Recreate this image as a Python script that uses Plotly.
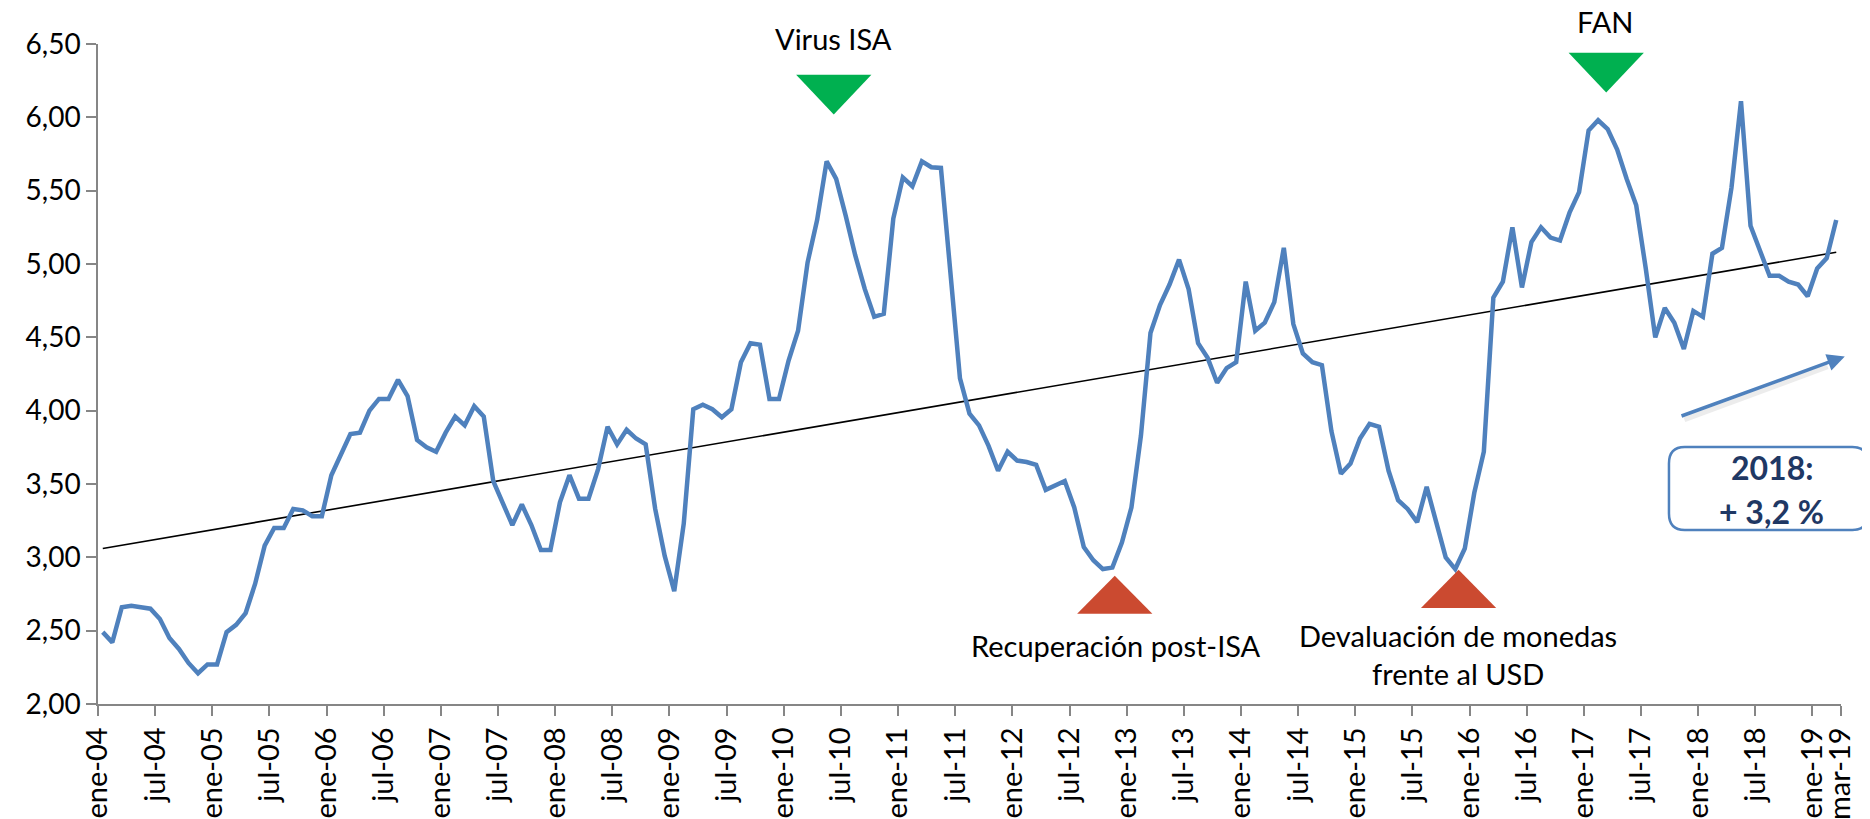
import numpy as np
import plotly.graph_objects as go

# precio mensual ene-04 .. mar-19
precio = [
    2.49, 2.42, 2.66, 2.67, 2.66, 2.65, 2.58, 2.45, 2.375, 2.28, 2.21, 2.27,
    2.27, 2.49, 2.54, 2.62, 2.82, 3.08, 3.20, 3.20, 3.33, 3.32, 3.28, 3.28,
    3.56, 3.70, 3.84, 3.85, 4.00, 4.08, 4.08, 4.21, 4.10, 3.80, 3.75, 3.72,
    3.85, 3.96, 3.90, 4.03, 3.96, 3.52, 3.375, 3.22, 3.36, 3.22, 3.05, 3.05,
    3.375, 3.56, 3.40, 3.40, 3.60, 3.89, 3.77, 3.87, 3.81, 3.77, 3.33, 3.01,
    2.77, 3.23, 4.01, 4.04, 4.01, 3.955, 4.01, 4.33, 4.46, 4.45, 4.08, 4.08,
    4.34, 4.545, 5.01, 5.30, 5.70, 5.58, 5.33, 5.06, 4.83, 4.64, 4.66, 5.31,
    5.59, 5.53, 5.70, 5.66, 5.655, 4.92, 4.22, 3.98, 3.90, 3.76, 3.59, 3.72,
    3.66, 3.65, 3.63, 3.46, 3.49, 3.52, 3.34, 3.07, 2.98, 2.92, 2.93, 3.10,
    3.34, 3.83, 4.53, 4.72, 4.86, 5.03, 4.83, 4.46, 4.36, 4.19, 4.29, 4.33,
    4.88, 4.545, 4.60, 4.74, 5.11, 4.59, 4.39, 4.33, 4.31, 3.86, 3.57, 3.64,
    3.81, 3.91, 3.89, 3.59, 3.39, 3.33, 3.24, 3.48, 3.24, 3.00, 2.92, 3.06,
    3.44, 3.72, 4.77, 4.88, 5.25, 4.84, 5.15, 5.25, 5.18, 5.16, 5.35, 5.49,
    5.91, 5.98, 5.92, 5.78, 5.58, 5.40, 4.97, 4.50, 4.70, 4.60, 4.42, 4.68,
    4.64, 5.07, 5.11, 5.52, 6.11, 5.26, 5.09, 4.92, 4.92, 4.88, 4.86, 4.78,
    4.97, 5.04, 5.30,
]
tendencia = [3.06, 5.08]  # inicio / fin de la linea de tendencia

anios = ["%02d" % a for a in range(4, 20)]
etiquetas = []
for a in anios:
    etiquetas += ["ene-" + a, "jul-" + a]
etiquetas = etiquetas[:-1] + ["mar-19"]

AZUL = "#4F81BD"
VERDE = "#00B050"
ROJO = "#CB4A30"
GRIS = "#868686"
NAVY = "#1F3864"
FUENTE = "Lato"

n = len(precio)
x = np.arange(n) + 0.5
tickvals = list(range(0, 181, 6)) + [n]

fig = go.Figure()
fig.add_trace(go.Scatter(x=[x[0], x[-1]], y=tendencia, mode="lines",
                         line=dict(color="black", width=1.6), hoverinfo="skip"))
fig.add_trace(go.Scatter(x=x, y=precio, mode="lines",
                         line=dict(color=AZUL, width=4.5)))


def triangulo(x0, x1, yb, yt, color):
    xm = (x0 + x1) / 2
    return dict(type="path", xref="x", yref="y", fillcolor=color, line=dict(width=0),
                path=f"M {x0},{yb} L {x1},{yb} L {xm},{yt} Z")


shapes = [
    triangulo(73.3, 81.2, 6.29, 6.02, VERDE),
    triangulo(154.4, 162.3, 6.44, 6.17, VERDE),
    triangulo(102.8, 110.7, 2.615, 2.875, ROJO),
    triangulo(138.9, 146.8, 2.655, 2.915, ROJO),
]

# caja redondeada "2018"
x0, x1, y0, y1 = 0.9013, 1.0155, 0.2636, 0.3894
rx, ry = 0.009, 0.025
caja = (f"M {x0+rx},{y0} L {x1-rx},{y0} Q {x1},{y0} {x1},{y0+ry} "
        f"L {x1},{y1-ry} Q {x1},{y1} {x1-rx},{y1} L {x0+rx},{y1} "
        f"Q {x0},{y1} {x0},{y1-ry} L {x0},{y0+ry} Q {x0},{y0} {x0+rx},{y0} Z")
shapes.append(dict(type="path", xref="paper", yref="paper", path=caja,
                   line=dict(color=AZUL, width=2.5), fillcolor="white"))

txt = dict(size=29, color="black", family=FUENTE)
caja_txt = dict(size=32, color=NAVY, family=FUENTE)
centro = dict(showarrow=False, xanchor="center", yanchor="middle")
annotations = [
    dict(x=77.2, y=1.008, xref="x", yref="paper", text="Virus ISA", font=txt, **centro),
    dict(x=158.3, y=1.034, xref="x", yref="paper", text="FAN", font=txt, **centro),
    dict(x=106.9, y=2.40, text="Recuperación post-ISA", font=txt, **centro),
    dict(x=142.8, y=2.47, text="Devaluación de monedas", font=txt, **centro),
    dict(x=142.8, y=2.21, text="frente al USD", font=txt, **centro),
    dict(x=0.9604, y=0.359, xref="paper", yref="paper", text="<b>2018:</b>",
         font=caja_txt, **centro),
    dict(x=0.9604, y=0.291, xref="paper", yref="paper", text="<b>+ 3,2 %</b>",
         font=caja_txt, **centro),
    # sombra de la flecha
    dict(x=181.6, y=4.30, ax=166.4, ay=3.935, axref="x", ayref="y", text="", showarrow=True,
         arrowhead=0, arrowwidth=5, arrowcolor="rgba(0,0,0,0.07)"),
    dict(x=183.4, y=4.37, ax=166.1, ay=3.96, axref="x", ayref="y", text="", showarrow=True,
         arrowhead=2, arrowsize=1, arrowwidth=3.5, arrowcolor=AZUL),
]

# la pagina deja 8 px de margen alrededor del grafico
fig.update_layout(
    template="none",
    width=1870, height=819, autosize=False,
    margin=dict(l=90, r=37, t=36, b=123, pad=0),
    paper_bgcolor="white", plot_bgcolor="white",
    showlegend=False, separators=",.",
    font=dict(family=FUENTE, size=28, color="black"),
    shapes=shapes, annotations=annotations,
)
fig.update_xaxes(range=[0, 183], tickvals=tickvals, ticktext=etiquetas, tickangle=-90,
                 ticks="outside", ticklen=10, tickcolor=GRIS, tickwidth=1.5,
                 showline=True, linecolor=GRIS, linewidth=1.5, automargin=False,
                 showgrid=False, zeroline=False, tickfont=dict(size=29))
fig.update_yaxes(range=[2, 6.5], dtick=0.5, tickformat=".2f",
                 ticks="outside", ticklen=10, tickcolor=GRIS, tickwidth=1.5,
                 showline=True, linecolor=GRIS, linewidth=1.5, automargin=False,
                 showgrid=False, zeroline=False, tickfont=dict(size=28))

fig.write_html("out.html")
